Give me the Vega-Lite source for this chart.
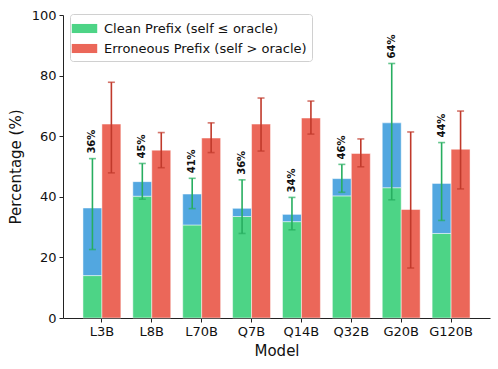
{
  "$schema": "https://vega.github.io/schema/vega-lite/v6.json",
  "width": 427,
  "height": 303,
  "autosize": "none",
  "padding": {"left": 63, "top": 15, "right": 8, "bottom": 51},
  "background": "white",
  "config": {
    "font": "DejaVu Sans",
    "view": {"stroke": null},
    "axis": {"grid": false, "domainColor": "#222", "tickColor": "#222", "labelColor": "#111", "titleColor": "#111", "labelFontSize": 13, "titleFontSize": 15, "titleFontWeight": "normal", "tickSize": 4, "labelPadding": 3}
  },
  "datasets": {
    "bars": [
      {"Model": "L3B", "series": "Clean", "part": "Clean Prefix (self ≤ oracle)", "v0": 0, "v1": 14},
      {"Model": "L3B", "series": "Clean", "part": "extra", "v0": 14, "v1": 36.3},
      {"Model": "L3B", "series": "Erroneous", "part": "Erroneous Prefix (self > oracle)", "v0": 0, "v1": 64},
      {"Model": "L8B", "series": "Clean", "part": "Clean Prefix (self ≤ oracle)", "v0": 0, "v1": 40.2},
      {"Model": "L8B", "series": "Clean", "part": "extra", "v0": 40.2, "v1": 45},
      {"Model": "L8B", "series": "Erroneous", "part": "Erroneous Prefix (self > oracle)", "v0": 0, "v1": 55.4},
      {"Model": "L70B", "series": "Clean", "part": "Clean Prefix (self ≤ oracle)", "v0": 0, "v1": 30.7},
      {"Model": "L70B", "series": "Clean", "part": "extra", "v0": 30.7, "v1": 40.9},
      {"Model": "L70B", "series": "Erroneous", "part": "Erroneous Prefix (self > oracle)", "v0": 0, "v1": 59.4},
      {"Model": "Q7B", "series": "Clean", "part": "Clean Prefix (self ≤ oracle)", "v0": 0, "v1": 33.5},
      {"Model": "Q7B", "series": "Clean", "part": "extra", "v0": 33.5, "v1": 36.2},
      {"Model": "Q7B", "series": "Erroneous", "part": "Erroneous Prefix (self > oracle)", "v0": 0, "v1": 64},
      {"Model": "Q14B", "series": "Clean", "part": "Clean Prefix (self ≤ oracle)", "v0": 0, "v1": 31.8},
      {"Model": "Q14B", "series": "Clean", "part": "extra", "v0": 31.8, "v1": 34.2},
      {"Model": "Q14B", "series": "Erroneous", "part": "Erroneous Prefix (self > oracle)", "v0": 0, "v1": 66},
      {"Model": "Q32B", "series": "Clean", "part": "Clean Prefix (self ≤ oracle)", "v0": 0, "v1": 40.3},
      {"Model": "Q32B", "series": "Clean", "part": "extra", "v0": 40.3, "v1": 46},
      {"Model": "Q32B", "series": "Erroneous", "part": "Erroneous Prefix (self > oracle)", "v0": 0, "v1": 54.3},
      {"Model": "G20B", "series": "Clean", "part": "Clean Prefix (self ≤ oracle)", "v0": 0, "v1": 43},
      {"Model": "G20B", "series": "Clean", "part": "extra", "v0": 43, "v1": 64.4},
      {"Model": "G20B", "series": "Erroneous", "part": "Erroneous Prefix (self > oracle)", "v0": 0, "v1": 35.8},
      {"Model": "G120B", "series": "Clean", "part": "Clean Prefix (self ≤ oracle)", "v0": 0, "v1": 27.9},
      {"Model": "G120B", "series": "Clean", "part": "extra", "v0": 27.9, "v1": 44.4},
      {"Model": "G120B", "series": "Erroneous", "part": "Erroneous Prefix (self > oracle)", "v0": 0, "v1": 55.7}
    ],
    "errs": [
      {"Model": "L3B", "series": "Clean", "lo": 22.6, "hi": 52.6, "label": "36%"},
      {"Model": "L3B", "series": "Erroneous", "lo": 47.9, "hi": 77.8, "label": ""},
      {"Model": "L8B", "series": "Clean", "lo": 39.2, "hi": 51, "label": "45%"},
      {"Model": "L8B", "series": "Erroneous", "lo": 49.6, "hi": 61.2, "label": ""},
      {"Model": "L70B", "series": "Clean", "lo": 36.1, "hi": 46.1, "label": "41%"},
      {"Model": "L70B", "series": "Erroneous", "lo": 54.6, "hi": 64.4, "label": ""},
      {"Model": "Q7B", "series": "Clean", "lo": 27.9, "hi": 45.6, "label": "36%"},
      {"Model": "Q7B", "series": "Erroneous", "lo": 55.1, "hi": 72.6, "label": ""},
      {"Model": "Q14B", "series": "Clean", "lo": 29.1, "hi": 39.8, "label": "34%"},
      {"Model": "Q14B", "series": "Erroneous", "lo": 60.7, "hi": 71.6, "label": ""},
      {"Model": "Q32B", "series": "Clean", "lo": 41.5, "hi": 50.7, "label": "46%"},
      {"Model": "Q32B", "series": "Erroneous", "lo": 49.9, "hi": 59.1, "label": ""},
      {"Model": "G20B", "series": "Clean", "lo": 39, "hi": 84, "label": "64%"},
      {"Model": "G20B", "series": "Erroneous", "lo": 16.5, "hi": 61.4, "label": ""},
      {"Model": "G120B", "series": "Clean", "lo": 32.2, "hi": 57.9, "label": "44%"},
      {"Model": "G120B", "series": "Erroneous", "lo": 42.6, "hi": 68.3, "label": ""}
    ]
  },
  "encoding": {
    "x": {
      "field": "Model", "type": "nominal", "sort": null,
      "scale": {"domain": ["L3B", "L8B", "L70B", "Q7B", "Q14B", "Q32B", "G20B", "G120B"], "paddingInner": 0.24, "paddingOuter": 0.4},
      "axis": {"title": "Model", "labelAngle": 0, "titlePadding": 5}
    },
    "xOffset": {"field": "series", "type": "nominal", "scale": {"domain": ["Clean", "Erroneous"], "paddingInner": 0, "paddingOuter": 0}}
  },
  "layer": [
    {
      "data": {"name": "bars"},
      "mark": {"type": "bar", "stroke": "white", "strokeOpacity": 0.6, "strokeWidth": 0.8},
      "encoding": {
        "y": {"field": "v1", "type": "quantitative", "scale": {"domain": [0, 100], "nice": false}, "axis": {"title": "Percentage (%)", "values": [0, 20, 40, 60, 80, 100], "titlePadding": 8}},
        "y2": {"field": "v0"},
        "color": {
          "field": "part", "type": "nominal",
          "scale": {"domain": ["Clean Prefix (self ≤ oracle)", "Erroneous Prefix (self > oracle)", "extra"], "range": ["#4dd486", "#eb6759", "#52a7e0"]},
          "legend": {
            "values": ["Clean Prefix (self ≤ oracle)", "Erroneous Prefix (self > oracle)"],
            "title": null, "orient": "none", "legendX": 7, "legendY": -1,
            "symbolType": "M-1.4,-0.5h2.8v1h-2.8z", "symbolSize": 330, "symbolStrokeWidth": 0,
            "labelFontSize": 13, "labelLimit": 0, "labelColor": "#111", "rowPadding": 3, "labelOffset": 10,
            "strokeColor": "#d0d0d0", "fillColor": "white", "cornerRadius": 3, "padding": 5
          }
        }
      }
    },
    {
      "data": {"name": "errs"},
      "mark": {"type": "rule", "strokeWidth": 1.6},
      "encoding": {
        "y": {"field": "lo", "type": "quantitative"},
        "y2": {"field": "hi"},
        "stroke": {"field": "series", "type": "nominal", "scale": {"domain": ["Clean", "Erroneous"], "range": ["#27ae60", "#c0392b"]}, "legend": null}
      }
    },
    {
      "data": {"name": "errs"},
      "mark": {"type": "tick", "orient": "horizontal", "size": 7, "thickness": 1.6},
      "encoding": {
        "y": {"field": "lo", "type": "quantitative"},
        "color": {"field": "series", "type": "nominal", "scale": {"domain": ["Clean", "Erroneous"], "range": ["#27ae60", "#c0392b"]}, "legend": null}
      }
    },
    {
      "data": {"name": "errs"},
      "mark": {"type": "tick", "orient": "horizontal", "size": 7, "thickness": 1.6},
      "encoding": {
        "y": {"field": "hi", "type": "quantitative"},
        "color": {"field": "series", "type": "nominal", "scale": {"domain": ["Clean", "Erroneous"], "range": ["#27ae60", "#c0392b"]}, "legend": null}
      }
    },
    {
      "data": {"name": "errs"},
      "mark": {"type": "text", "angle": 270, "align": "left", "baseline": "middle", "fontWeight": "bold", "fontSize": 10, "color": "#111", "dx": 5},
      "encoding": {
        "y": {"field": "hi", "type": "quantitative"},
        "text": {"field": "label"}
      }
    }
  ],
  "resolve": {"scale": {"color": "independent"}}
}
